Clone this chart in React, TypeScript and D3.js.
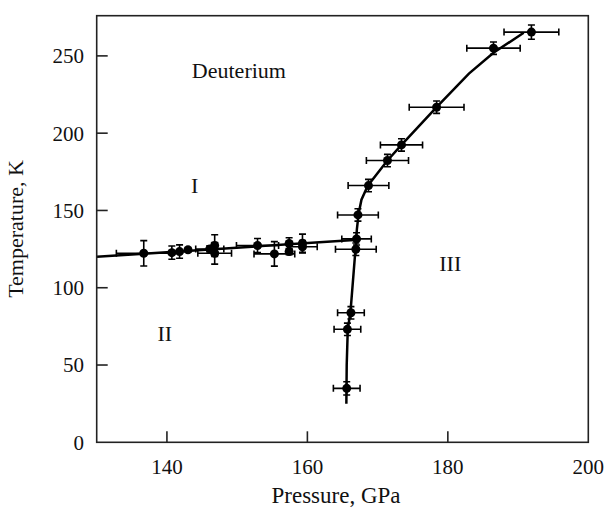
import React from "react";
import * as d3 from "d3";

// Phase-boundary measurements: I–II line (pressure GPa, temperature K, errors)
const h_pressure = [136.7, 140.7, 141.8, 143.0, 146.1, 146.8, 146.8, 152.9, 155.3, 157.4, 157.4, 159.3, 159.3];
const h_temperature = [122.3, 122.7, 123.4, 124.5, 125.1, 127.3, 122.3, 127.3, 121.9, 128.6, 123.4, 128.8, 126.5];
const h_pErr = [3.9, 0, 0, 0, 2.0, 0, 2.4, 3.0, 2.9, 0, 0, 0, 2.1];
const h_tErr = [8.2, 4.3, 4.3, 1.5, 2, 7, 7, 4.6, 7.9, 3.7, 2, 5.9, 4];

// II–III and I–III boundary
const v_pressure = [165.6, 165.7, 166.2, 166.9, 167.0, 167.2, 168.7, 171.4, 173.4, 178.4, 186.5, 191.9];
const v_temperature = [34.9, 73.1, 83.8, 124.9, 131.6, 147.1, 166.1, 182.3, 192.4, 216.8, 255.0, 265.4];
const v_pErr = [1.9, 1.9, 1.9, 2.9, 2.1, 2.9, 2.9, 3.0, 3.0, 3.9, 3.8, 3.9];
const v_tErr = [4.3, 4, 4, 4, 4, 4, 4, 4, 4, 4, 4, 4.6];

// Drawn boundary lines
const lineH_p = [130, 167.2];
const lineH_t = [120.0, 131.0];
const curve_p = [165.55, 165.6, 165.75, 166.15, 166.85, 167.05, 167.3, 167.7, 168.6, 171.4, 173.4, 178.4, 183.0, 186.5, 190.8];
const curve_t = [25, 50, 73, 85, 125, 138, 148, 157, 166, 182.3, 192.4, 216.8, 238.5, 252, 265];

const xTicks = [140, 160, 180, 200];
const yTicks = [0, 50, 100, 150, 200, 250];

const phaseLabels = [
  { text: "Deuterium", p: 143.55, t: 240.5, anchor: "start" },
  { text: "I", p: 143.95, t: 166, anchor: "middle" },
  { text: "II", p: 139.7, t: 70.5, anchor: "middle" },
  { text: "III", p: 180.35, t: 115.8, anchor: "middle" },
];

const W = 604, H = 509;
const L = 96.7, R = 588.3, T = 15.7, B = 442.3;
const FONT = '"Liberation Serif", "DejaVu Serif", serif';

export default function App() {
  const x = d3.scaleLinear().domain([130, 200]).range([L, R]);
  const y = d3.scaleLinear().domain([0, 276]).range([B, T]);

  const hPts = h_pressure.map((p, i) => ({ p, t: h_temperature[i], pe: h_pErr[i], te: h_tErr[i] }));
  const vPts = v_pressure.map((p, i) => ({ p, t: v_temperature[i], pe: v_pErr[i], te: v_tErr[i] }));
  const pts = [...hPts, ...vPts];

  const line = d3.line<[number, number]>().x(d => x(d[0])).y(d => y(d[1]));
  const hLine = line(lineH_p.map((p, i) => [p, lineH_t[i]]));
  const vLine = line(curve_p.map((p, i) => [p, curve_t[i]]));

  const txt = { fontFamily: FONT, fill: "#111" } as React.CSSProperties;
  const cap = 3.5;
  return (
    <svg width={W} height={H} style={{ position: "absolute", left: 0, top: 0 }}>
      <rect x={0} y={0} width={W} height={H} fill="white" />
      <defs>
        <clipPath id="plot"><rect x={L} y={T} width={R - L} height={B - T} /></clipPath>
      </defs>
      <g clipPath="url(#plot)">
        <path d={hLine || ""} fill="none" stroke="black" strokeWidth={2.5} />
        <path d={vLine || ""} fill="none" stroke="black" strokeWidth={2.5} />
        {pts.map((d, i) => {
          const cx = x(d.p), cy = y(d.t);
          return (
            <g key={i} stroke="black" strokeWidth={1.6}>
              {d.pe > 0 && (
                <>
                  <line x1={x(d.p - d.pe)} x2={x(d.p + d.pe)} y1={cy} y2={cy} />
                  <line x1={x(d.p - d.pe)} x2={x(d.p - d.pe)} y1={cy - cap} y2={cy + cap} />
                  <line x1={x(d.p + d.pe)} x2={x(d.p + d.pe)} y1={cy - cap} y2={cy + cap} />
                </>
              )}
              {d.te > 0 && (
                <>
                  <line x1={cx} x2={cx} y1={y(d.t - d.te)} y2={y(d.t + d.te)} />
                  <line x1={cx - cap} x2={cx + cap} y1={y(d.t - d.te)} y2={y(d.t - d.te)} />
                  <line x1={cx - cap} x2={cx + cap} y1={y(d.t + d.te)} y2={y(d.t + d.te)} />
                </>
              )}
              <circle cx={cx} cy={cy} r={4.5} fill="black" stroke="none" />
            </g>
          );
        })}
      </g>
      <rect x={L} y={T} width={R - L} height={B - T} fill="none" stroke="#222" strokeWidth={1.6} />
      {yTicks.map(v => (
        <g key={"y" + v}>
          {v > 0 && <line x1={L} x2={L + 11} y1={y(v)} y2={y(v)} stroke="#222" strokeWidth={1.6} />}
          <text x={84} y={y(v)} dy="0.35em" textAnchor="end" fontSize={21} style={txt}>{v}</text>
        </g>
      ))}
      {xTicks.map(v => (
        <g key={"x" + v}>
          {v < 200 && <line x1={x(v)} x2={x(v)} y1={B} y2={B - 11} stroke="#222" strokeWidth={1.6} />}
          <text x={x(v)} y={474} textAnchor="middle" fontSize={21} style={txt}>{v}</text>
        </g>
      ))}
      <text x={336} y={503} textAnchor="middle" fontSize={23} style={txt}>Pressure, GPa</text>
      <text transform={`translate(15, ${(T + B) / 2}) rotate(-90)`} textAnchor="middle" dy="0.35em" fontSize={22} style={txt}>Temperature, K</text>
      {phaseLabels.map(l => (
        <text key={l.text} x={x(l.p)} y={y(l.t)} dy="0.35em" textAnchor={l.anchor as any} fontSize={22} style={txt}>{l.text}</text>
      ))}
    </svg>
  );
}
